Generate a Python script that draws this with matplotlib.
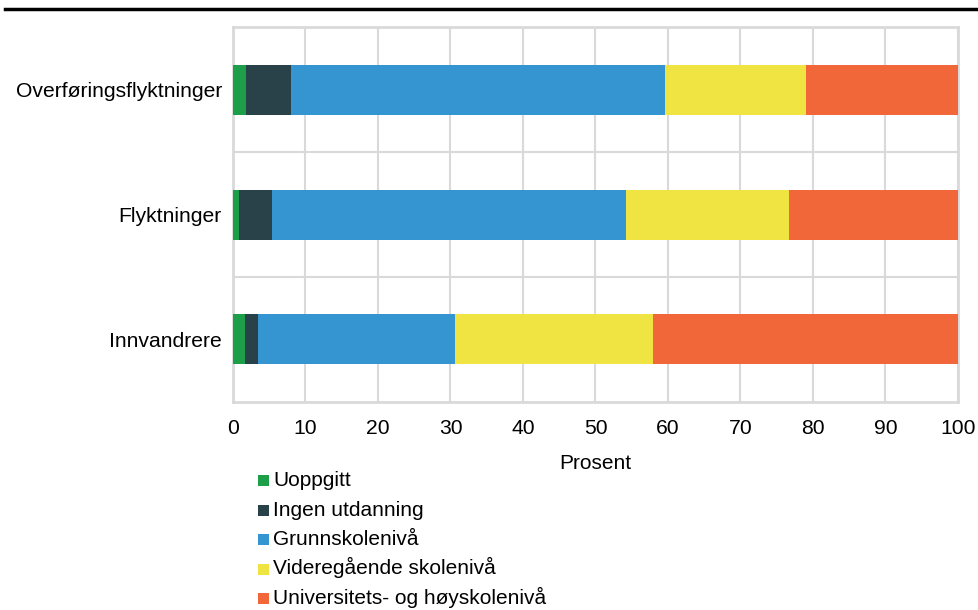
import matplotlib.pyplot as plt
import numpy as np
from matplotlib.patches import Rectangle
from matplotlib.lines import Line2D

plt.rcParams['font.family'] = ['Liberation Sans', 'DejaVu Sans']

groups = ["Innvandrere", "Flyktninger", "Overføringsflyktninger"]
levels = ["Uoppgitt", "Ingen utdanning", "Grunnskolenivå",
          "Videregående skolenivå", "Universitets- og høyskolenivå"]
uoppgitt = [1.6, 0.8, 1.8]
ingen = [1.9, 4.6, 6.2]
grunnskole = [27.1, 48.8, 51.6]
videregaende = [27.3, 22.5, 19.5]
universitet = [42.1, 23.3, 20.9]
colors = ["#1d9e48", "#29424a", "#3595d1", "#f0e442", "#f26739"]

series = [uoppgitt, ingen, grunnskole, videregaende, universitet]

W, H = 979, 610
fig = plt.figure(figsize=(W / 100, H / 100), dpi=100)
ax = fig.add_axes([0.238, 0.341, 0.7405, 0.6147])

y = np.arange(len(groups))
left = np.zeros(len(groups))
for vals, col in zip(series, colors):
    ax.barh(y, vals, left=left, height=0.4, color=col, zorder=3)
    left += np.array(vals)

ax.set_xlim(0, 100)
ax.set_ylim(-0.5, 2.5)
ax.set_xticks(np.arange(0, 101, 10))
ax.set_yticks(y)
ax.set_yticklabels(groups)
ax.set_yticks([0.5, 1.5], minor=True)
ax.tick_params(axis='both', which='both', length=0, labelsize=15.2)
ax.tick_params(axis='x', pad=12)
ax.tick_params(axis='y', pad=8)
ax.grid(axis='x', color='#d9d9d9', linewidth=1.5, zorder=0)
ax.grid(axis='y', which='minor', color='#d9d9d9', linewidth=1.5, zorder=0)
for s in ax.spines.values():
    s.set_color('#d9d9d9')
    s.set_linewidth(2)
ax.set_xlabel("Prosent", fontsize=15, labelpad=12)

# legend below the plot, one row per level (fixed row pitch)
for i, (lab, col) in enumerate(zip(levels, colors)):
    base = 486 + 29.5 * i
    fig.add_artist(Rectangle((258 / W, 1 - base / H), 11 / W, 11 / H,
                             facecolor=col, edgecolor='none',
                             transform=fig.transFigure))
    fig.text(273 / W, 1 - base / H, lab, fontsize=15, va='baseline', ha='left')

fig.add_artist(Line2D([0.005, 1.0], [0.986, 0.986], color='black', linewidth=2.5,
                      transform=fig.transFigure))

fig.savefig("out.png", dpi=100)
